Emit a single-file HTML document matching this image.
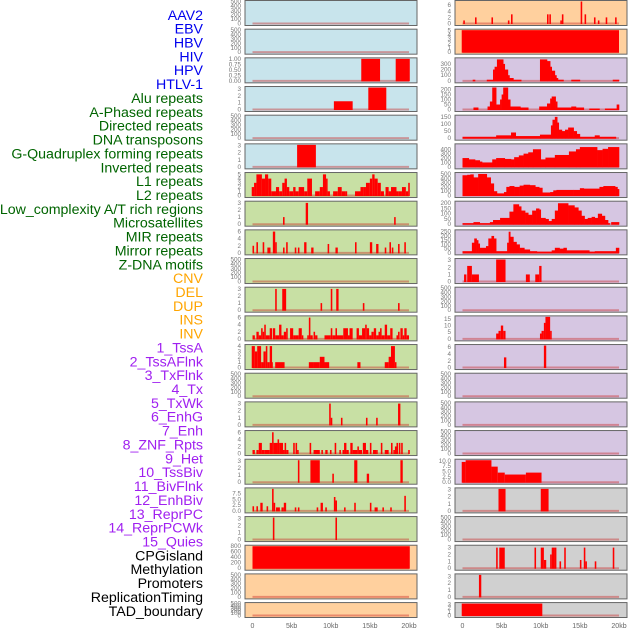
<!DOCTYPE html>
<html><head><meta charset="utf-8"><style>
html,body{margin:0;padding:0;background:#fff;}
svg{display:block;font-family:"Liberation Sans",sans-serif;}
</style></head><body>
<svg id="chart" width="630" height="630" viewBox="0 0 630 630"></svg>
<script>
const labels=["AAV2","EBV","HBV","HIV","HPV","HTLV-1","Alu repeats","A-Phased repeats","Directed repeats","DNA transposons","G-Quadruplex forming repeats","Inverted repeats","L1 repeats","L2 repeats","Low_complexity A/T rich regions","Microsatellites","MIR repeats","Mirror repeats","Z-DNA motifs","CNV","DEL","DUP","INS","INV","1_TssA","2_TssAFlnk","3_TxFlnk","4_Tx","5_TxWk","6_EnhG","7_Enh","8_ZNF_Rpts","9_Het","10_TssBiv","11_BivFlnk","12_EnhBiv","13_ReprPC","14_ReprPCWk","15_Quies","CPGisland","Methylation","Promoters","ReplicationTiming","TAD_boundary"];
const labelColors=[...Array(6).fill("#0000ee"),...Array(13).fill("#006400"),...Array(5).fill("#ffa500"),...Array(15).fill("#a020f0"),...Array(5).fill("#000000")];
const xTicks=[0,5,10,15,20];
const xTickLabels=["0","5kb","10kb","15kb","20kb"];
const E=["0","100","200","300","400","500"], T3=["0","1","2","3"], T6=["0","2","4","6"];
const B="#c8e4ec",G="#c8e0a4",O="#ffd09e",P="#d6c6e2",R="#d0d0d0";
const leftBg=[B,B,B,B,B,B,G,G,G,G,G,G,G,G,G,G,G,G,G,O,O,O];
const leftMax=[500,500,1.0,3.2,500,3.1,5.2,3.1,6.2,500,3.1,6.2,4.1,500,3.1,6.2,3.1,9.5,3.1,800,500,500];
const leftTicks=[E,E,["0.00","0.25","0.50","0.75","1.00"],T3,E,T3,["0","1","2","3","4","5"],T3,T6,E,T3,T6,["0","1","2","3","4"],E,T3,T6,T3,["0.0","2.5","5.0","7.5"],T3,["0","200","400","600","800"],E,E];
const leftBars=[[],[],
[[13.9,16.3,1],[18.3,20.1,1]],
[[10.4,12.8,1.2],[14.8,17.1,3.2]],
[],
[[5.7,8.1,3.1]],
[[-0.1,0.2,2],[0.2,0.5,3],[0.5,1.2,5],[1.2,1.6,4],[1.6,2.0,5],[2.0,2.4,4],[2.4,3.0,1],[3.0,3.4,2],[3.4,3.8,1],[3.8,4.1,3],[4.1,4.4,4],[4.4,4.7,2],[4.7,5.2,1],[5.2,5.5,2],[5.5,5.9,1],[5.9,6.6,2],[6.6,7.0,1],[7.0,7.6,4],[8.0,8.6,1],[8.6,9.0,2],[9.0,9.4,5],[9.4,9.6,4],[9.6,9.9,1],[10.3,10.9,1],[10.9,11.4,2],[11.4,11.9,1],[11.9,12.1,1],[13.1,13.8,1],[13.8,14.2,2],[14.2,14.5,2],[14.5,15.0,3],[15.0,15.3,4],[15.3,15.6,5],[15.6,16.0,4],[16.0,16.4,3],[16.4,16.8,1],[17.0,17.4,2],[17.4,17.7,1],[17.7,18.4,2],[18.4,18.7,1],[18.7,19.1,1],[19.1,19.6,2],[19.6,19.9,1],[19.9,20.1,3]],
[[3.9,4.1,1],[6.8,7.1,3],[18.1,18.3,1]],
[[0,0.2,2],[0.5,0.7,3],[1.3,1.5,3],[1.9,2.3,1.5],[2.6,2.9,6],[2.9,3.1,3],[3.9,4.1,1.5],[4.3,4.5,3],[5.4,5.6,1.5],[5.8,6.0,1.5],[6.6,6.9,3],[7.5,7.8,1.5],[9.6,9.8,2.5],[10.6,10.9,1.5],[13.1,13.3,3],[15.0,15.3,3],[15.8,16.1,2.5],[16.9,17.1,1.5],[17.5,17.7,3],[17.8,18.0,1.5],[18.6,18.8,2.5],[19.4,19.6,3]],
[],
[[2.9,3.1,3],[3.8,4.3,3],[8.7,8.9,1],[10.0,10.2,3],[10.7,11.0,3],[14.1,14.3,1],[18.6,18.8,1]],
[[0,0.3,1],[0.5,0.8,2],[0.8,1.1,1],[1.1,1.3,3],[1.3,1.5,2],[1.5,1.7,4],[1.7,2.2,1],[2.2,2.5,3],[2.6,2.9,3],[2.9,3.4,1],[3.4,3.7,4],[3.7,4.0,1],[4.0,4.3,2],[4.3,4.5,3],[4.8,5.2,3],[5.2,5.5,1],[5.5,5.9,1],[5.9,6.3,3],[6.3,6.5,1],[7.0,7.2,1],[7.2,7.4,6],[7.4,7.7,1],[7.8,8.0,2],[8.0,8.3,1],[9.2,10.0,1],[10.0,10.2,3],[10.2,10.6,1],[10.6,10.8,3],[10.8,11.6,1],[11.6,12.2,3],[12.2,12.4,1],[12.4,12.8,3],[13.3,13.6,3],[13.6,14.0,1],[14.0,14.4,3],[14.4,14.6,4],[14.6,14.9,3],[14.9,15.2,1],[15.2,15.5,2],[15.5,15.8,3],[15.8,16.1,1],[16.1,16.3,2],[16.3,16.5,3],[16.5,16.9,1],[16.9,17.2,4],[17.2,17.6,1],[17.6,17.9,3],[18.4,18.6,1],[18.6,18.8,2],[18.9,19.2,3],[19.2,19.4,1],[19.4,19.7,3],[19.7,20,1]],
[[-0.1,0.3,4],[0.3,0.6,3],[0.6,1.1,4],[1.1,1.4,1],[1.4,1.7,3],[1.7,1.9,4],[1.9,2.2,1],[2.2,2.5,4],[2.5,2.6,1],[2.9,4.1,1],[7.2,7.8,1],[7.8,8.6,1],[8.6,9.2,2],[9.2,9.8,1],[13.4,13.8,1],[16.9,17.4,1],[17.4,17.7,2],[17.7,18.2,4],[18.2,18.4,1]],
[],
[[9.8,10.0,3],[10.0,10.2,1],[11.3,11.5,1],[14.5,14.7,1],[15.8,16.0,1],[18.6,18.9,3]],
[[0,0.3,1],[0.5,0.8,1],[0.8,1.2,3],[1.2,1.5,1],[1.5,2.2,1],[2.2,2.5,3],[2.5,2.7,6],[2.7,3.2,3],[3.2,3.4,4],[3.4,3.9,3],[3.9,4.1,1],[4.1,4.3,3],[4.3,4.6,1],[5.2,5.4,3],[5.5,5.7,3],[5.7,5.9,1],[7.3,7.5,3],[7.8,8.6,1],[8.8,9.0,1],[9.3,9.6,1],[9.9,10.1,1],[10.5,10.7,3],[11.1,11.3,1],[11.5,11.7,1],[11.7,12.0,3],[12.0,12.3,1],[12.5,12.8,3],[12.8,13.4,1],[13.4,13.6,2],[13.6,14.0,1],[14.1,14.5,3],[14.5,14.8,1],[15.0,15.2,3],[15.4,15.8,1],[15.8,16.0,1],[16.4,16.6,3],[16.9,17.4,1],[17.7,17.9,3],[18.0,18.2,1],[18.2,18.4,2],[18.4,18.6,3],[18.7,18.9,3],[19.0,19.2,3],[19.9,20.1,1]],
[[5.8,6.0,3.1],[7.4,8.6,3.1],[10.2,10.4,1.2],[13.0,13.4,3.1],[14.6,14.9,1.2],[18.9,19.2,3.1]],
[[0,0.2,2],[0.5,0.7,2],[1.0,1.3,3.5],[1.8,2.0,2],[2.5,2.7,10],[2.7,2.9,3.5],[3.0,3.5,1.5],[3.7,4.0,1.5],[4.0,4.3,3.5],[5.4,5.6,1.5],[5.8,6.0,1.5],[8.2,8.4,1.5],[8.7,9.0,3.5],[9.3,9.5,1.5],[10.4,10.6,6],[10.6,10.8,4.5],[11.7,11.9,1.5],[13.0,13.2,3.5],[15.0,15.2,3.5],[15.6,16.0,1.5],[16.6,16.8,1.5],[17.6,17.8,1.5],[19.4,19.6,6.5]],
[[2.6,2.8,3.1],[10.6,10.8,3.1]],
[[0,20.1,800]],
[],[]];
const rightBg=[O,O,P,P,P,P,P,P,P,P,P,P,P,P,P,P,P,R,R,R,R,R];
const rightMax=[7.2,5.1,390,220,155,500,510,210,260,3.1,500,16.5,6.5,500,500,500,10.3,3.1,500,3.2,3.2,3.2];
const rightTicks=[T6,["0","1","2","3","4","5"],["0","100","200","300"],["0","50","100","150","200"],["0","50","100","150"],["0","100","200","300","400"],E,["0","50","100","150","200"],["0","50","100","150","200","250"],T3,E,["0","5","10","15"],T6,E,E,E,["0.0","2.5","5.0","7.5","10.0"],T3,E,T3,T3,T3];
const rightBars=[
[[0.1,0.3,1],[1.6,1.8,2],[3.7,3.9,2],[5.8,6.0,1],[6.2,6.4,3],[10.8,11.0,3],[11.1,11.3,3],[12.5,12.7,1],[12.7,12.9,3],[15.1,15.3,7.2],[15.6,15.8,3],[16.8,17.0,2],[17.3,17.5,1],[18.3,18.5,2],[19.5,19.7,2]],
[[-0.1,20,5.1]],
[],[],[],[],[],[],[],
[[0.2,0.5,1],[0.6,1.2,2.2],[1.2,2.1,1],[4.3,5.5,3.1],[8.1,8.6,1],[9.3,9.8,1],[9.8,10.1,2.2]],
[],
[[4.3,4.6,4],[4.6,4.9,6],[4.9,5.2,10],[5.2,5.5,6],[9.9,10.1,4],[10.1,10.4,6],[10.4,10.6,12],[10.6,11.2,16.5],[11.2,11.4,6]],
[[5.3,5.6,3],[10.4,10.7,6.5]],
[],[],[],
[[-0.1,0.4,9.5],[0.4,3.7,10.3],[3.7,4.5,7.3],[4.5,5.4,4.5],[5.4,8.1,3.6],[8.1,10.1,4.5]],
[[4.6,5.5,3.1],[10.0,11.0,3.1]],
[],
[[4.3,4.5,3],[4.7,5.4,3],[9.2,9.4,3],[10.0,10.4,3],[10.4,10.7,1.2],[11.2,11.4,2],[11.4,11.7,3],[11.7,12.0,3],[12.4,12.6,1],[13.0,13.2,3],[15.0,15.2,1.2],[15.5,15.7,3],[15.7,15.9,1],[16.9,17.1,1],[19.2,19.4,3]],
[[2.1,2.4,3.2]],
[[-0.1,10.2,3.2]]];
const rightSteps=[[],[],
[[0,0],[1.3,20],[1.6,0],[3.1,20],[3.9,200],[4.1,250],[4.4,380],[5.2,300],[5.4,200],[5.8,100],[6.0,50],[6.5,20],[7.5,0],[9.9,380],[10.8,350],[11.2,250],[11.4,180],[11.8,100],[12.0,50],[12.2,20],[12.9,0],[13.9,20],[15.0,0],[19.2,20],[20,0]],
[[0,0],[1.4,20],[2.0,0],[3.2,30],[3.5,80],[3.8,220],[4.3,50],[4.8,100],[5.0,150],[5.2,220],[5.8,100],[6.1,30],[7.4,20],[8.4,0],[9.8,30],[10.8,60],[11.2,110],[11.4,130],[11.9,80],[12.1,20],[13.9,30],[14.5,20],[15.5,0],[16.2,10],[17.5,0],[18.2,10],[19.7,50],[20,0]],
[[0,10],[4.3,20],[6.2,40],[6.8,15],[9.9,25],[11.3,90],[11.5,130],[11.8,150],[12.1,110],[12.3,60],[12.7,50],[13.1,60],[13.5,75],[14.2,50],[14.6,30],[15.0,10],[16.9,20],[17.5,10],[19.6,0],[20,0]],
[[0,200],[0.8,170],[1.6,150],[2.2,120],[2.5,100],[3.8,170],[4.3,200],[5.4,180],[6.2,170],[6.6,220],[7.2,260],[7.8,300],[8.4,330],[9.0,400],[10.0,170],[10.6,210],[11.8,270],[13.6,350],[14.5,400],[15.0,450],[17.2,380],[17.9,410],[18.6,450],[20,0]],
[[0,470],[0.6,480],[1.0,490],[1.4,420],[2.0,500],[3.1,420],[3.6,280],[4.0,100],[4.4,50],[5.3,80],[5.6,200],[6.0,220],[6.6,200],[7.3,230],[7.8,250],[8.6,240],[9.3,200],[9.8,180],[10.2,70],[11.2,80],[11.6,120],[12.0,130],[14.2,130],[15.0,170],[15.5,160],[17.5,200],[18.0,220],[19.5,200],[19.8,150],[20,0]],
[[0,10],[1.4,20],[2.2,10],[3.5,20],[3.9,40],[4.8,60],[6.0,120],[6.5,190],[7.2,170],[7.5,130],[8.0,110],[8.4,90],[8.9,130],[9.4,150],[9.8,140],[10.0,60],[10.6,50],[11.0,30],[11.4,50],[11.8,130],[12.2,200],[13.5,180],[14.3,160],[14.8,130],[15.2,80],[15.6,50],[16.0,60],[16.5,70],[16.9,60],[17.3,100],[17.8,80],[18.2,40],[18.6,10],[18.8,0],[19.0,20],[20,0]],
[[0,20],[1.2,120],[1.5,170],[1.8,150],[2.0,110],[2.2,60],[3.0,80],[3.3,170],[3.7,200],[4.0,170],[4.3,20],[5.7,120],[5.9,250],[6.1,190],[6.5,130],[6.9,100],[7.3,60],[7.9,40],[8.6,20],[9.5,15],[11.4,30],[11.8,60],[12.4,50],[12.9,60],[13.3,30],[16.2,15],[16.9,20],[19.6,60],[20,0]],
[],[],[],[],[],[],[],[],[],[],[],[],[]];

const NS="http://www.w3.org/2000/svg";
const svg=document.getElementById("chart");
function mk(tag,attrs,parent){const e=document.createElementNS(NS,tag);for(const k in attrs)e.setAttribute(k,attrs[k]);(parent||svg).appendChild(e);return e;}
const ROW=28.67, PH=25;
function panelTop(i){return i*ROW;}
function panelH(i){return Math.min(PH,617-panelTop(i));}

labels.forEach((t,i)=>{
  const el=mk("text",{x:203,y:15+i*13.86+4.8,"text-anchor":"end","font-size":"14.2",fill:labelColors[i]});
  
  
  el.textContent=t;
});

function drawColumn(side,x0,x1,bgs,maxs,ticks,bars,steps){
  const px0=x0+7.5, px1=x1-8;
  const xs=kb=>px0+(kb/20)*(px1-px0);
  for(let i=0;i<bgs.length;i++){
    const top=panelTop(i), h=panelH(i);
    const g=mk("g",{});
    
    
    mk("rect",{x:x0,y:top+0.5,width:x1-x0,height:h,fill:bgs[i],stroke:"#666","stroke-width":1},g);
    const yb=top+h-1.5, yt=top+1.5;
    const ys=v=>yb-(Math.min(v,maxs[i])/maxs[i])*(yb-yt);
    ticks[i].forEach(s=>{
      const t=mk("text",{x:x0-4,y:ys(parseFloat(s))+2,"text-anchor":"end","font-size":"6.3",fill:"#777"},g);
      
      
      t.textContent=s;
    });
    const bl=mk("line",{x1:xs(0),x2:xs(20),y1:yb,y2:yb,stroke:"rgba(200,30,30,0.4)","stroke-width":2},g);
    
    
    const st=steps?steps[i]:[];
    for(let k=0;k+1<st.length;k++){
      if(st[k][1]<=0)continue;
      const r=mk("rect",{x:xs(st[k][0]),y:ys(st[k][1]),width:Math.max(0.6,xs(st[k+1][0])-xs(st[k][0])+0.3),height:yb-ys(st[k][1])+0.5,fill:"#ff0000"},g);
      
      
    }
    bars[i].forEach(b=>{
      const r=mk("rect",{x:xs(b[0]),y:ys(b[2]),width:Math.max(0.8,xs(b[1])-xs(b[0])),height:yb-ys(b[2])+0.5,fill:"#ff0000"},g);
      
      
    });
  }
  xTicks.forEach((v,k)=>{
    const t=mk("text",{x:xs(v),y:628,"text-anchor":"middle","font-size":"7",fill:"#666"});
    
    
    t.textContent=xTickLabels[k];
  });
}
drawColumn("left",245,417,leftBg,leftMax,leftTicks,leftBars,null);
drawColumn("right",455,627,rightBg,rightMax,rightTicks,rightBars,rightSteps);
</script>
</body></html>
